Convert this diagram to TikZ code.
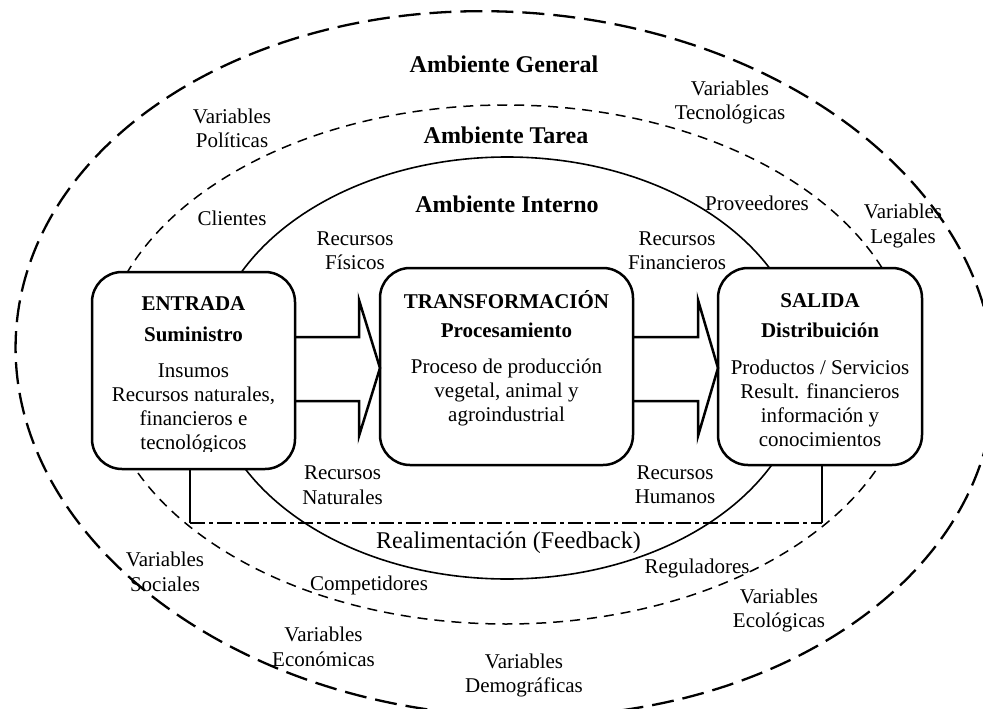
\documentclass[tikz,border=0pt]{standalone}
\usepackage{fontspec}
\setmainfont{Liberation Serif}
\begin{document}
\begin{tikzpicture}[x=1pt, y=-1pt,
  envgeneral/.style={line width=2.3pt, dash pattern=on 22pt off 9pt},
  envtask/.style={line width=1.5pt, dash pattern=on 10pt off 7pt},
  envinternal/.style={line width=1.6pt},
  stagebox/.style={draw, line width=2.5pt, rounded corners=30pt, fill=white, inner sep=0pt, outer sep=0pt},
  flowarrow/.style={line width=2.5pt, line join=miter},
  feedline/.style={line width=2.3pt},
  feeddash/.style={line width=2.3pt, dash pattern=on 15pt off 4pt on 4pt off 4pt},
  envtitle/.style={font=\fontsize{24}{28}\selectfont\bfseries, inner sep=0pt, anchor=base},
  envlabel/.style={font=\fontsize{21}{24.5}\selectfont, align=center, inner sep=0pt},
  feedtext/.style={font=\fontsize{24}{28}\selectfont, inner sep=0pt, anchor=base},
  stagetitle/.style={font=\fontsize{21}{24}\selectfont\bfseries, inner sep=0pt, anchor=base},
  stagetext/.style={font=\fontsize{21}{24}\selectfont, align=center, inner sep=0pt},
]
\useasboundingbox (0,0) rectangle (983,709);

% nested environments
\draw[envgeneral, rotate around={-4:(505,364)}] (505,364) ellipse [x radius=490pt, y radius=352pt];
\draw[envtask] (506,364.5) ellipse [x radius=405pt, y radius=259.5pt];
\draw[envinternal] (507,368) ellipse [x radius=298pt, y radius=211pt];

% environment titles
\node[envtitle] (tGeneral) at (504,73) {Ambiente General};
\node[envtitle] (tTarea) at (506,143) {Ambiente Tarea};
\node[envtitle] (tInterno) at (507,212) {Ambiente Interno};

% stage boxes
\node[stagebox, minimum width=203pt, minimum height=197pt] (entrada) at (193.5,370.5) {};
\node[stagebox, minimum width=253pt, minimum height=197pt] (transf) at (506.5,366.5) {};
\node[stagebox, minimum width=204pt, minimum height=197pt] (salida) at (820,366.5) {};

% block arrows between stages
\draw[flowarrow] (entrada.east |- 0,337) -- (359,337) -- (359,300) -- (transf.west |- 0,368)
  -- (359,436) -- (359,401) -- (entrada.east |- 0,401);
\draw[flowarrow] (transf.east |- 0,337) -- (698,337) -- (698,300) -- (salida.west |- 0,368)
  -- (698,436) -- (698,401) -- (transf.east |- 0,401);

% feedback loop
\coordinate (fbL) at (190,523);
\coordinate (fbR) at (822,523);
\draw[feedline] (entrada.south -| fbL) -- (fbL);
\draw[feedline] (salida.south -| fbR) -- (fbR);
\draw[feeddash] (fbL) -- (fbR);
\node[feedtext] (fbText) at (508.5,548) {Realimentación (Feedback)};

% stage texts
\node[stagetitle] (entT) at (193.5,310) {ENTRADA};
\node[stagetitle] (entS) at (193.5,341) {Suministro};
\begin{scope}
  \clip (92,272) rectangle (295,451);
  \node[stagetext] (entB) at (193.5,409.3) {Insumos\\Recursos naturales,\\financieros e\\tecnológicos};
\end{scope}

\node[stagetitle] (traT) at (506.5,308) {TRANSFORMACIÓN};
\node[stagetitle] (traS) at (506.5,337) {Procesamiento};
\node[stagetext] (traB) at (506.5,392.6) {Proceso de producción\\vegetal, animal y\\agroindustrial};

\node[stagetitle] (salT) at (820,307) {SALIDA};
\node[stagetitle] (salS) at (820,337) {Distribuición};
\node[stagetext] (salB) at (820,403.7) {Productos / Servicios\\Result. financieros\\información y\\conocimientos};

% surrounding factors
\node[envlabel] (lPol) at (232,128.5) {Variables\\Políticas};
\node[envlabel] (lCli) at (232,218) {Clientes};
\node[envlabel] (lFis) at (355,250.8) {Recursos\\Físicos};
\node[envlabel] (lTec) at (730,102.4) {Variables\\Tecnológicas};
\node[envlabel] (lPro) at (757,203) {Proveedores};
\node[envlabel] (lFin) at (677,250.8) {Recursos\\Financieros};
\node[envlabel] (lLeg) at (903,226) {Variables\\Legales};
\node[envlabel] (lNat) at (342.5,485) {Recursos\\Naturales};
\node[envlabel] (lHum) at (675,484.5) {Recursos\\Humanos};
\node[envlabel] (lSoc) at (165,571.8) {Variables\\Sociales};
\node[envlabel] (lCom) at (369,585) {Competidores};
\node[envlabel] (lReg) at (697,568.5) {Reguladores};
\node[envlabel] (lEco) at (779,610.7) {Variables\\Ecológicas};
\node[envlabel] (lEcn) at (323.5,646.8) {Variables\\Económicas};
\node[envlabel] (lDem) at (524,675.7) {Variables\\Demográficas};
\end{tikzpicture}
\end{document}
